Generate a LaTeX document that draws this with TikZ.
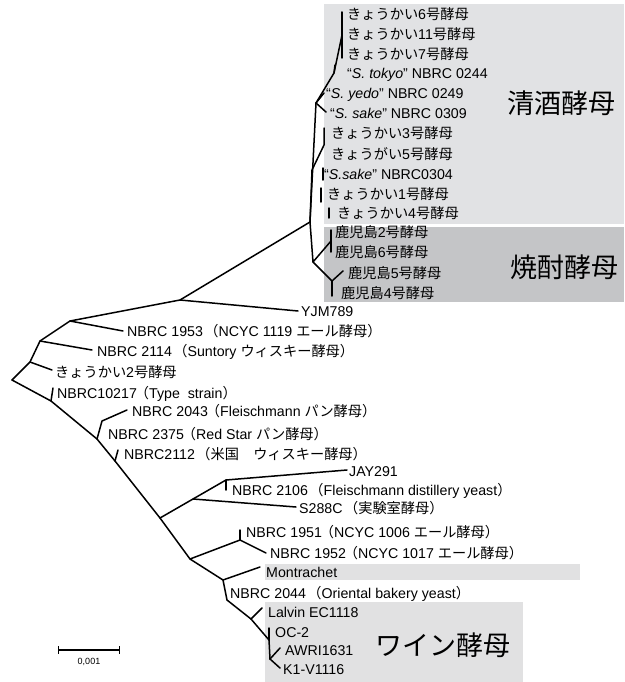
\documentclass[tikz,border=0pt]{standalone}
\usepackage{fontspec}
\setmainfont{Liberation Sans}
\newfontfamily\jp{Noto Sans CJK JP}
\newcommand\J[1]{{\jp #1}}
\newcommand\PL{\kern-2pt\J{（}}
\newcommand\PW{\kern1.5pt\J{（}}
\definecolor{sakegray}{RGB}{225,226,228}
\definecolor{shochugray}{RGB}{196,197,199}
\definecolor{winegray}{RGB}{225,225,226}
\begin{document}
\begin{tikzpicture}[x=1pt,y=-1pt,
  tree/.style={line width=1.5pt, line join=round, line cap=round},
  lab/.style={anchor=base west, inner sep=0pt, font=\fontsize{14.2}{16}\selectfont},
  big/.style={anchor=center, inner sep=0pt, font=\jp\fontsize{27}{30}\selectfont},
  scalelab/.style={anchor=center, inner sep=0pt, font=\fontsize{9}{10}\selectfont}]
\useasboundingbox (0,0) rectangle (624,682);
% background boxes
\fill[sakegray] (324,4) rectangle (624,224);
\fill[shochugray] (324,227) rectangle (624,302);
\fill[winegray] (265,564) rectangle (580,580);
\fill[winegray] (265,602) rectangle (523,682);
% ---------- coordinates ----------
\coordinate (r0) at (12,380);
\coordinate (n1) at (30,362);
\coordinate (n2) at (40,341);
\coordinate (n3) at (70,321);
\coordinate (n4) at (180,300);
\coordinate (n5) at (310,222);
\coordinate (tYJM) at (298,311);
\coordinate (t1953) at (123,331);
\coordinate (t2114) at (92,350);
\coordinate (tK2) at (52,370);
\coordinate (m1) at (51,401);
\coordinate (t10217) at (53,388);
\coordinate (m2) at (97,439);
\coordinate (p2375) at (102,421);
\coordinate (t2043) at (127,410);
\coordinate (m3) at (115,461);
\coordinate (t2112) at (118,450);
\coordinate (m4) at (160,518);
\coordinate (q1) at (193,499);
\coordinate (q2) at (226,480);
\coordinate (tJAY) at (347,470);
\coordinate (t2106) at (226,490);
\coordinate (tS288) at (296,507);
\coordinate (m5) at (190,559);
\coordinate (s1) at (240,540);
\coordinate (t1951) at (240,530);
\coordinate (t1952) at (266,553);
\coordinate (m6) at (223,580);
\coordinate (tMon) at (260,567);
\coordinate (m7) at (227,600);
\coordinate (m8) at (251,619);
\coordinate (tLal) at (262,608);
\coordinate (m9) at (269,640);
\coordinate (tOC) at (269,628);
\coordinate (m10) at (270,659);
\coordinate (tAW) at (280,648);
\coordinate (tK1) at (280,668);
% shochu
\coordinate (k1) at (313,262);
\coordinate (k2) at (331,241);
\coordinate (kb1) at (331,230);
\coordinate (kb2) at (331,252);
\coordinate (k3) at (332,281);
\coordinate (tk5) at (343,271);
\coordinate (tk4) at (332,296);
% sake
\coordinate (ys) at (316,103);
\coordinate (tyedo) at (324,93);
\coordinate (tsake) at (326,112);
\coordinate (t2) at (334,73);
\coordinate (ttokyo) at (335,65);
\coordinate (t3) at (342,35);
\coordinate (bar1) at (342,12);
\coordinate (bar2) at (342,58);
\coordinate (v1) at (312,170);
\coordinate (v2) at (324,145);
\coordinate (v2b) at (324,128);
\coordinate (ta1) at (323,168);
\coordinate (ta2) at (323,180);
\coordinate (tb1) at (321,188);
\coordinate (tb2) at (321,202);
\coordinate (tc1) at (329,208);
\coordinate (tc2) at (329,218);
% ---------- branches ----------
\draw[tree] (r0)--(n1)--(n2)--(n3)--(n4)--(n5);
\draw[tree] (n4)--(tYJM);
\draw[tree] (n3)--(t1953);
\draw[tree] (n2)--(t2114);
\draw[tree] (n1)--(tK2);
\draw[tree] (r0)--(m1)--(m2)--(m3)--(m4)--(m5)--(m6)--(m7)--(m8)--(m9)--(m10);
\draw[tree] (m1)--(t10217);
\draw[tree] (m2)--(p2375)--(t2043);
\draw[tree] (m3)--(t2112);
\draw[tree] (m4)--(q1)--(q2)--(tJAY);
\draw[tree] (q2)--(t2106);
\draw[tree] (q1)--(tS288);
\draw[tree] (m5)--(s1)--(t1952);
\draw[tree] (s1)--(t1951);
\draw[tree] (m6)--(tMon);
\draw[tree] (m8)--(tLal);
\draw[tree] (m9)--(tOC);
\draw[tree] (m10)--(tAW);
\draw[tree] (m10)--(tK1);
\draw[tree] (n5)--(k1)--(k2);
\draw[tree] (kb1)--(kb2);
\draw[tree] (k1)--(k3)--(tk5);
\draw[tree] (k3)--(tk4);
\draw[tree] (n5)--(ys)--(t2)--(t3);
\draw[tree] (ys)--(tyedo);
\draw[tree] (ys)--(tsake);
\draw[tree] (t2)--(ttokyo);
\draw[tree] (bar1)--(bar2);
\draw[tree] (n5)--(v1)--(v2)--(v2b);
\draw[tree] (ta1)--(ta2);
\draw[tree] (tb1)--(tb2);
\draw[tree] (tc1)--(tc2);
% ---------- labels ----------
\node[lab] (l1) at (347,20) {\J{きょうかい}6\J{号酵母}};
\node[lab] (l2) at (347,40) {\J{きょうかい}11\J{号酵母}};
\node[lab] (l3) at (347,60) {\J{きょうかい}7\J{号酵母}};
\node[lab] (l4) at (347,79) {“\textit{S. tokyo}” NBRC 0244};
\node[lab] (l5) at (326,99) {“\textit{S. yedo}” NBRC 0249};
\node[lab] (l6) at (330,119) {“\textit{S. sake}” NBRC 0309};
\node[lab] (l7) at (331,139) {\J{きょうかい}3\J{号酵母}};
\node[lab] (l8) at (331,159) {\J{きょうがい}5\J{号酵母}};
\node[lab] (l9) at (324,179) {“\textit{S.sake}” NBRC0304};
\node[lab] (l10) at (327,199) {\J{きょうかい}1\J{号酵母}};
\node[lab] (l11) at (337,218) {\J{きょうかい}4\J{号酵母}};
\node[lab] (k2l) at (335,237) {\J{鹿児島}2\J{号酵母}};
\node[lab] (k6l) at (335,257) {\J{鹿児島}6\J{号酵母}};
\node[lab] (k5l) at (348,278) {\J{鹿児島}5\J{号酵母}};
\node[lab] (k4l) at (341,298) {\J{鹿児島}4\J{号酵母}};
\node[lab] (yjm) at (301,316) {YJM789};
\node[lab] (b1953) at (127,336) {NBRC 1953\PW NCYC 1119 \J{エール酵母）}};
\node[lab] (b2114) at (97,356) {NBRC 2114\PW Suntory \J{ウィスキー酵母）}};
\node[lab] (kk2) at (55,377) {\J{きょうかい}2\J{号酵母}};
\node[lab] (b10217) at (57,398) {NBRC10217\PL Type\ \ strain\J{）}};
\node[lab] (b2043) at (132,416) {NBRC 2043\PL Fleischmann \J{パン酵母）}};
\node[lab] (b2375) at (108,439) {NBRC 2375\PL Red Star \J{パン酵母）}};
\node[lab] (b2112) at (124,459) {NBRC2112\PW\J{米国　ウィスキー酵母）}};
\node[lab] (jay) at (349,476) {JAY291};
\node[lab] (b2106) at (232,495) {NBRC 2106\PW Fleischmann distillery yeast\J{）}};
\node[lab] (s288) at (299,513) {S288C\PW\J{実験室酵母）}};
\node[lab] (b1951) at (246,537) {NBRC 1951\PL NCYC 1006 \J{エール酵母）}};
\node[lab] (b1952) at (270,558) {NBRC 1952\PL NCYC 1017 \J{エール酵母）}};
\node[lab] (mon) at (266,577) {Montrachet};
\node[lab] (b2044) at (230,598) {NBRC 2044\PW Oriental bakery yeast\J{）}};
\node[lab] (lal) at (268,617) {Lalvin EC1118};
\node[lab] (oc) at (275,637) {OC-2};
\node[lab] (awri) at (285,655) {AWRI1631};
\node[lab] (k1v) at (283,674) {K1-V1116};
% group labels
\node[big] (gsake) at (561,103) {清酒酵母};
\node[big] (gshochu) at (564,267) {焼酎酵母};
\node[big] (gwine) at (443,645) {ワイン酵母};
% scale bar
\coordinate (sb1) at (58,650);
\coordinate (sb2) at (120,650);
\draw[line width=1.2pt, |-|] (sb1)--(sb2);
\node[scalelab] (sbl) at (89,662) {0,001};
\end{tikzpicture}
\end{document}
